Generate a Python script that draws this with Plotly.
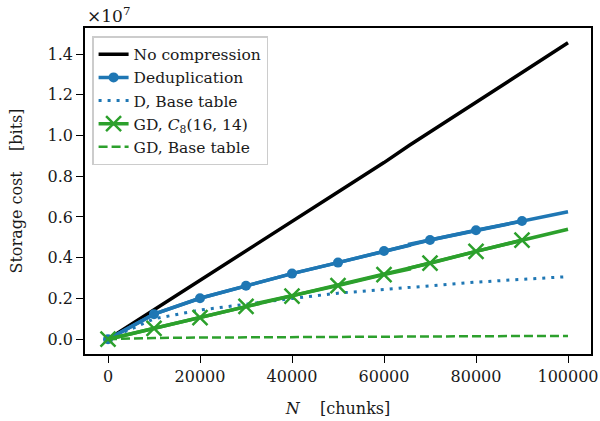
import plotly.graph_objects as go

# ---- data (bits) ----
N_line = [0, 10000, 20000, 30000, 32767, 32768, 40000, 50000, 60000, 65535, 65536, 70000, 80000, 90000, 100000]
no_compression = [0, 1.435e6, 2.87e6, 4.305e6, 4.702e6, 4.735e6, 5.78e6, 7.225e6, 8.67e6, 9.47e6, 9.52e6, 10.17e6, 11.62e6, 13.08e6, 14.55e6]
dedup = [0, 1.23e6, 2.01e6, 2.62e6, 2.78e6, 2.81e6, 3.22e6, 3.76e6, 4.33e6, 4.61e6, 4.66e6, 4.87e6, 5.35e6, 5.80e6, 6.26e6]
gd = [0, 0.53e6, 1.06e6, 1.61e6, 1.75e6, 1.78e6, 2.12e6, 2.63e6, 3.17e6, 3.44e6, 3.49e6, 3.73e6, 4.31e6, 4.86e6, 5.40e6]

N_marks = [0, 10000, 20000, 30000, 40000, 50000, 60000, 70000, 80000, 90000]
dedup_marks = [0, 1.23e6, 2.01e6, 2.62e6, 3.22e6, 3.76e6, 4.33e6, 4.87e6, 5.35e6, 5.80e6]
gd_marks = [0, 0.53e6, 1.06e6, 1.61e6, 2.12e6, 2.63e6, 3.17e6, 3.73e6, 4.31e6, 4.86e6]

N_base = [0, 10000, 20000, 30000, 40000, 50000, 60000, 70000, 80000, 90000, 100000]
d_base = [0, 1.00e6, 1.43e6, 1.72e6, 2.00e6, 2.26e6, 2.45e6, 2.64e6, 2.80e6, 2.94e6, 3.07e6]
gd_base = [0, 0.06e6, 0.08e6, 0.095e6, 0.11e6, 0.125e6, 0.135e6, 0.145e6, 0.15e6, 0.155e6, 0.16e6]

y_ticks = [0, 2e6, 4e6, 6e6, 8e6, 10e6, 12e6, 14e6]
y_ticktext = ["0.0", "0.2", "0.4", "0.6", "0.8", "1.0", "1.2", "1.4"]
x_ticks = [0, 20000, 40000, 60000, 80000, 100000]
x_ticktext = ["0", "20000", "40000", "60000", "80000", "100000"]

BLUE = "#1f77b4"
GREEN = "#2ca02c"
FONT = "DejaVu Serif"
TXT = "#1a1a1a"

fig = go.Figure()

fig.add_trace(go.Scatter(x=N_line, y=no_compression, mode="lines",
                         line=dict(color="black", width=3.5),
                         name="No compression"))

fig.add_trace(go.Scatter(x=N_marks, y=dedup_marks, mode="lines+markers",
                         line=dict(color=BLUE, width=3.5),
                         marker=dict(color=BLUE, size=10, symbol="circle"),
                         name="Deduplication", legendgroup="d"))
fig.add_trace(go.Scatter(x=N_line, y=dedup, mode="lines",
                         line=dict(color=BLUE, width=3.5),
                         showlegend=False, legendgroup="d"))

fig.add_trace(go.Scatter(x=N_base, y=d_base, mode="lines",
                         line=dict(color=BLUE, width=3, dash="3px,6px"),
                         name="D, Base table"))

fig.add_trace(go.Scatter(x=N_marks, y=gd_marks, mode="lines+markers",
                         line=dict(color=GREEN, width=3.5),
                         marker=dict(color=GREEN, size=15, symbol="x-thin",
                                     line=dict(color=GREEN, width=2.5)),
                         name="GD, <i>C</i><sub>8</sub>(16, 14)", legendgroup="g"))
fig.add_trace(go.Scatter(x=N_line, y=gd, mode="lines",
                         line=dict(color=GREEN, width=3.5),
                         showlegend=False, legendgroup="g"))

fig.add_trace(go.Scatter(x=N_base, y=gd_base, mode="lines",
                         line=dict(color=GREEN, width=2.5, dash="9px,4px"),
                         name="GD, Base table"))

axis_common = dict(showline=True, mirror=True, linecolor="black", linewidth=1.5,
                   ticks="outside", ticklen=7, tickwidth=1.3, tickcolor="black",
                   showgrid=False, zeroline=False, automargin=False,
                   tickfont=dict(family=FONT, size=16, color=TXT))

fig.update_xaxes(range=[-5000, 105000], tickvals=x_ticks, ticktext=x_ticktext,
                 title=dict(text="<i>N</i>    [chunks]", font=dict(family=FONT, size=16, color=TXT),
                            standoff=18),
                 **axis_common)
fig.update_yaxes(range=[-0.0727e7, 1.5277e7], tickvals=y_ticks, ticktext=y_ticktext,
                 title=dict(text="Storage cost    [bits]", font=dict(family=FONT, size=16, color=TXT),
                            standoff=21),
                 **axis_common)

fig.add_annotation(x=0, y=1, xref="paper", yref="paper", xanchor="left", yanchor="bottom",
                   text="×10<sup>7</sup>", showarrow=False, yshift=0,
                   font=dict(family=FONT, size=17, color=TXT))

fig.update_layout(
    width=600, height=421,
    margin=dict(l=85, r=9, t=28, b=67),
    plot_bgcolor="white", paper_bgcolor="white",
    legend=dict(x=0.014, y=0.975, xanchor="left", yanchor="top",
                bgcolor="rgba(255,255,255,0.8)", bordercolor="#cccccc", borderwidth=1.5,
                font=dict(family=FONT, size=15.5, color=TXT),
                tracegroupgap=0, itemwidth=30),
)

fig.write_html("out.html")
